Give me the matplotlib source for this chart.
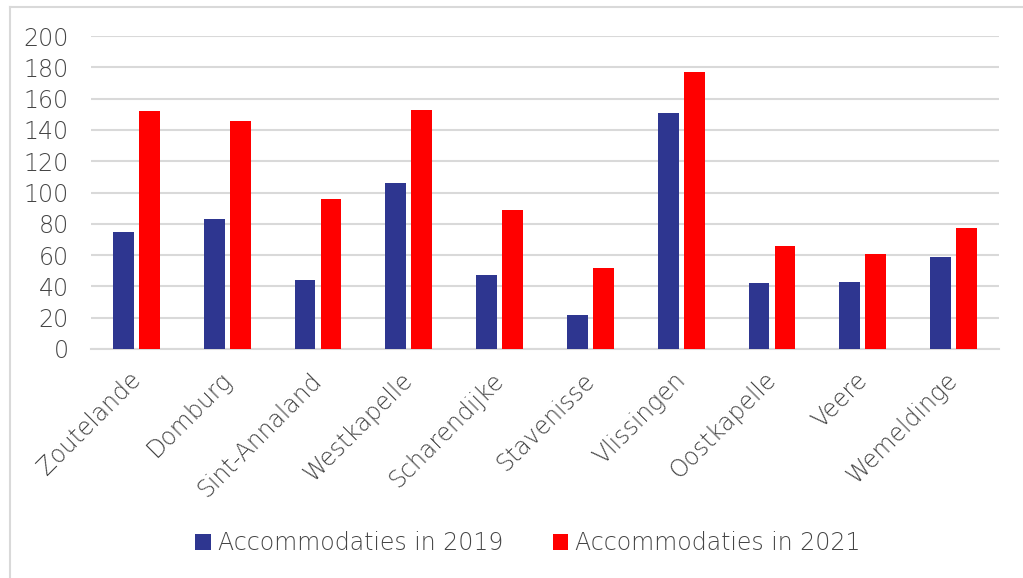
import matplotlib
matplotlib.use("Agg")
import matplotlib.pyplot as plt
from matplotlib.lines import Line2D
import matplotlib.transforms as mtransforms
import numpy as np

plaatsen = ['Zoutelande', 'Domburg', 'Sint-Annaland', 'Westkapelle', 'Scharendijke',
            'Stavenisse', 'Vlissingen', 'Oostkapelle', 'Veere', 'Wemeldinge']
acc_2019 = [75, 83, 44, 106, 47, 22, 151, 42, 43, 59]
acc_2021 = [152, 146, 96, 153, 89, 52, 177, 66, 61, 77]
y_ticks = list(range(0, 201, 20))

plt.rcParams['font.family'] = ['DejaVu Sans']
plt.rcParams['font.weight'] = 'light'
grey_txt = '#454545'
grid_col = '#d9d9d9'

W, H = 1023, 578
fig = plt.figure(figsize=(W / 100, H / 100), dpi=100)
ax = fig.add_axes([91 / W, 1 - 349 / H, (999 - 91) / W, (349 - 36) / H])

x = np.arange(len(plaatsen))
bw = 0.23
off = 0.143
ax.bar(x - off, acc_2019, bw, color='#2e3690', label='Accommodaties in 2019', zorder=3)
ax.bar(x + off, acc_2021, bw, color='#ff0000', label='Accommodaties in 2021', zorder=3)

ax.set_xlim(-0.5, len(plaatsen) - 0.5)
ax.set_ylim(0, 200)
ax.set_yticks(y_ticks)
ax.yaxis.grid(True, color=grid_col, linewidth=1.5, zorder=0)
for s in ['top', 'right', 'left']:
    ax.spines[s].set_visible(False)
ax.spines['bottom'].set_color(grid_col)
ax.spines['bottom'].set_linewidth(1.5)
ax.tick_params(axis='both', length=0, labelsize=17, colors=grey_txt)
ax.tick_params(axis='y', pad=16)

ax.set_xticks(x)
ax.set_xticklabels(plaatsen, rotation=45, ha='right', va='top', rotation_mode='anchor')
shift = mtransforms.ScaledTranslation(-8 / 100, -14 / 100, fig.dpi_scale_trans)
for lbl in ax.get_xticklabels():
    lbl.set_transform(lbl.get_transform() + shift)

leg = fig.legend(loc='center', bbox_to_anchor=(528 / W, 1 - 543 / H), ncol=2, frameon=False,
                 fontsize=17, handlelength=0.65, handleheight=0.65, handletextpad=0.3,
                 columnspacing=2.1)
for t in leg.get_texts():
    t.set_color(grey_txt)

# chart border (top and left visible)
fig.add_artist(Line2D([10 / W, 10 / W], [0, 1 - 7 / H], color='#d9d9d9', linewidth=1.5,
                      transform=fig.transFigure))
fig.add_artist(Line2D([10 / W, 1], [1 - 7 / H, 1 - 7 / H], color='#d9d9d9', linewidth=1.5,
                      transform=fig.transFigure))

fig.savefig('out.png', dpi=100)
